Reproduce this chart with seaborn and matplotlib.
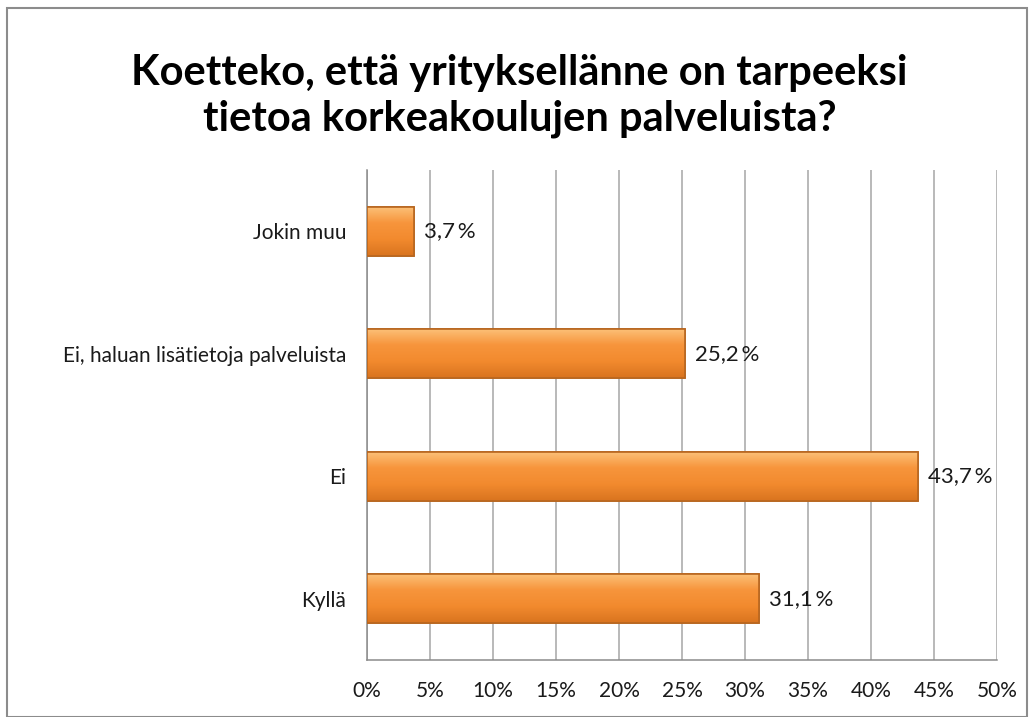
import numpy as np
import pandas as pd
import matplotlib
matplotlib.use("Agg")
import matplotlib.pyplot as plt
import seaborn as sns
from matplotlib.patches import Rectangle
from matplotlib.ticker import MultipleLocator, FuncFormatter

categories = ["Jokin muu", "Ei, haluan lisätietoja palveluista", "Ei", "Kyllä"]
values = [3.7, 25.2, 43.7, 31.1]
labels = ["3,7 %", "25,2 %", "43,7 %", "31,1 %"]
title_lines = ["Koetteko, että yrityksellänne on tarpeeksi",
               "tietoa korkeakoulujen palveluista?"]

sns.set_style("white")
plt.rcParams["font.family"] = ["Lato", "DejaVu Sans"]

df = pd.DataFrame({"kategoria": categories, "osuus": values})

fig = plt.figure(figsize=(10.33, 7.17), dpi=100)
ax = fig.add_axes([0.3553, 0.0795, 0.6098, 0.6835])

sns.barplot(data=df, x="osuus", y="kategoria", orient="h", width=0.4,
            color="#F79646", edgecolor="#B8661F", linewidth=1.2, ax=ax, zorder=3)

# soft vertical gradient on the bars
grad = np.linspace(0, 1, 100).reshape(-1, 1)
cmap = matplotlib.colors.LinearSegmentedColormap.from_list(
    "oranssi", ["#FCC27A", "#F7953C", "#F28A2E", "#D9741F"])
for p in ax.patches:
    x0, y0 = p.get_x(), p.get_y()
    w, h = p.get_width(), p.get_height()
    im = ax.imshow(grad, aspect="auto", cmap=cmap, extent=[x0, x0 + w, y0 + h, y0],
                   zorder=3.5)
    im.set_clip_path(p)
    ax.add_patch(Rectangle((x0, y0), w, h, fill=False, edgecolor="#B8661F",
                           linewidth=1.2, zorder=4))

ax.set_xlim(0, 50)
ax.set_ylim(3.5, -0.5)
ax.xaxis.set_major_locator(MultipleLocator(5))
ax.xaxis.set_major_formatter(FuncFormatter(lambda v, _: f"{v:.0f}%"))
ax.grid(axis="x", color="#A6A6A6", linewidth=1.1, zorder=0)
ax.set_axisbelow(True)

ax.set_xlabel("")
ax.set_ylabel("")

# y tick marks on category boundaries
ax.set_yticks(np.arange(-0.5, 4.0, 1.0), minor=True)
ax.tick_params(axis="y", which="major", length=0, pad=15, labelsize=15, labelcolor="#1a1a1a")
ax.tick_params(axis="y", which="minor", length=9, width=1.1, color="#8C8C8C", direction="out")
ax.tick_params(axis="x", which="major", length=9, width=1.1, color="#8C8C8C",
               direction="out", pad=6, labelsize=15, labelcolor="#1a1a1a")

for s in ["top", "right"]:
    ax.spines[s].set_visible(False)
for s in ["left", "bottom"]:
    ax.spines[s].set_color("#8C8C8C")
    ax.spines[s].set_linewidth(1.1)

for i, (v, lab) in enumerate(zip(values, labels)):
    ax.text(v + 0.8, i, lab.replace(" %", "\u2009%"), va="center", ha="left",
            fontsize=16, color="#1a1a1a", zorder=5)

# title as two lines, placed separately to get the wider line gap
for yy, line in zip([1 - 85 / 717, 1 - 131 / 717], title_lines):
    fig.text(0.503, yy, line, ha="center", va="baseline", fontsize=30,
             fontweight="bold", color="black")

fig.patches.append(Rectangle((0.007, 0.0), 0.987, 0.989, transform=fig.transFigure,
                             fill=False, edgecolor="#8C8C8C", linewidth=1.5))

fig.savefig("out.png", dpi=100)
